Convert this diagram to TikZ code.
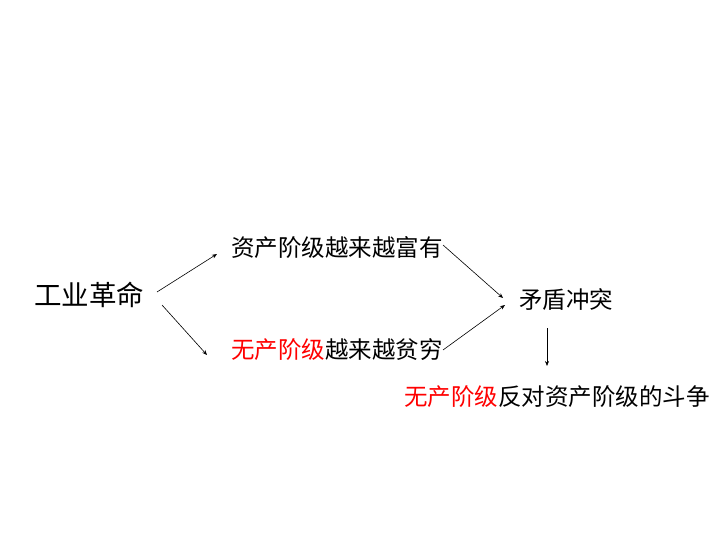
\documentclass[tikz,border=0pt]{standalone}
\usepackage{fontspec}
\setmainfont{Noto Sans CJK SC}
\usetikzlibrary{arrows.meta}
\begin{document}
\begin{tikzpicture}[x=1pt,y=-1pt,
  lbl/.style={inner sep=0pt,font=\fontsize{23.5}{25}\selectfont},
  arr/.style={-{Stealth[length=5pt,width=4pt]},line width=0.6pt}]
\useasboundingbox (0,0) rectangle (720,540);
\node[lbl,font=\fontsize{27.5}{29}\selectfont] (ir) at (89,295) {工业革命};
\node[lbl] (rich) at (337,248) {资产阶级越来越富有};
\node[lbl] (poor) at (337,350) {\textcolor{red}{无产阶级}越来越贫穷};
\node[lbl] (conf) at (566,300) {矛盾冲突};
\node[lbl] (fight) at (557,397) {\textcolor{red}{无产阶级}反对资产阶级的斗争};
\coordinate (a1) at (157,292); \coordinate (a2) at (217,254);
\coordinate (b1) at (162,305); \coordinate (b2) at (207,355);
\coordinate (c1) at (443,245); \coordinate (c2) at (503,298);
\coordinate (d1) at (443,350); \coordinate (d2) at (505,305);
\coordinate (e1) at (547,328); \coordinate (e2) at (547,366);
\draw[arr] (a1) -- (a2);
\draw[arr] (b1) -- (b2);
\draw[arr] (c1) -- (c2);
\draw[arr] (d1) -- (d2);
\draw[arr] (e1) -- (e2);
\end{tikzpicture}
\end{document}
